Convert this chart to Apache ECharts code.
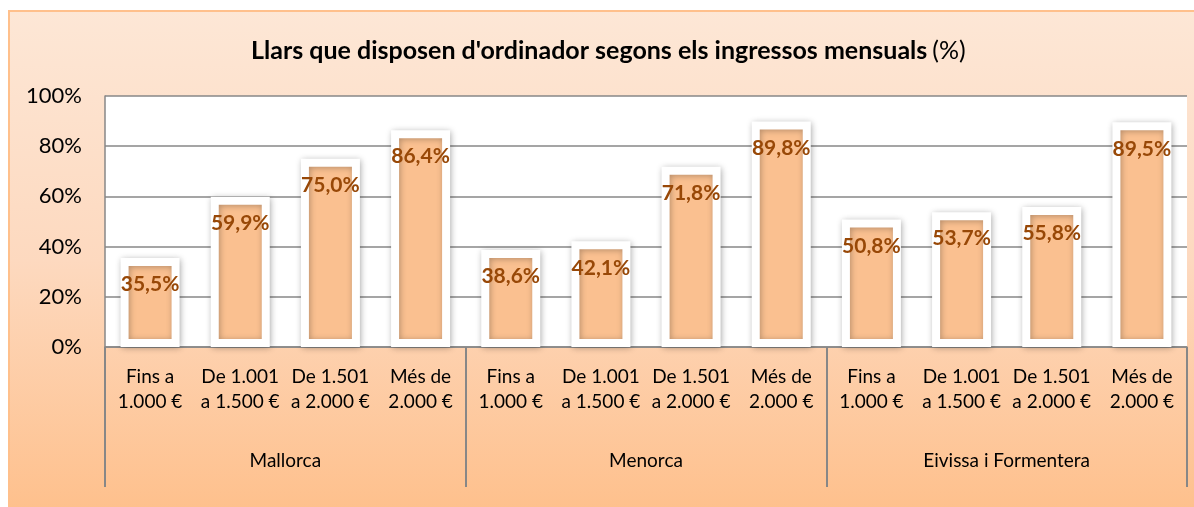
<!DOCTYPE html>
<html>
<head>
<meta charset="utf-8">
<script src="https://cdn.jsdelivr.net/npm/echarts@6/dist/echarts.min.js"></script>
<style>
html,body{margin:0;padding:0;background:#fff;}
#chart{width:1194px;height:507px;}
</style>
</head>
<body>
<div id="chart"></div>
<script>
const categories = [
  'Fins a\n1.000 €', 'De 1.001\na 1.500 €', 'De 1.501\na 2.000 €', 'Més de\n2.000 €',
  'Fins a\n1.000 €', 'De 1.001\na 1.500 €', 'De 1.501\na 2.000 €', 'Més de\n2.000 €',
  'Fins a\n1.000 €', 'De 1.001\na 1.500 €', 'De 1.501\na 2.000 €', 'Més de\n2.000 €'
];
const groups = ['Mallorca', 'Menorca', 'Eivissa i Formentera'];
const values = [35.5, 59.9, 75.0, 86.4, 38.6, 42.1, 71.8, 89.8, 50.8, 53.7, 55.8, 89.5];
const yTicks = [0, 20, 40, 60, 80, 100];

const FONT = 'Lato';
const chart = echarts.init(document.getElementById('chart'));
const gray = '#878787';

chart.setOption({
  animation: false,
  graphic: [{
    type: 'rect',
    left: 8, top: 10, z: -10,
    shape: { width: 1190, height: 500 },
    style: {
      fill: new echarts.graphic.LinearGradient(0, 0, 0, 1, [
        { offset: 0, color: '#FDE7D6' },
        { offset: 0.5, color: '#FDD9BF' },
        { offset: 1, color: '#FEC08C' }
      ]),
      stroke: '#FFC08C', lineWidth: 2
    }
  }],
  title: {
    text: "{b|Llars que disposen d'ordinador segons els ingressos mensuals} {n|(%)}",
    left: 246, top: 33,
    textStyle: {
      rich: {
        b: { fontFamily: FONT, fontWeight: 'bold', fontSize: 25, color: '#000' },
        n: { fontFamily: FONT, fontWeight: 'normal', fontSize: 25, color: '#000' }
      }
    }
  },
  grid: {
    left: 105, right: 7, top: 96, bottom: 160,
    show: true, backgroundColor: '#fff', borderWidth: 0
  },
  yAxis: {
    type: 'value', min: 0, max: 100, interval: 20,
    axisLine: { show: true, lineStyle: { color: gray, width: 1.5 } },
    axisTick: { show: false },
    splitLine: { lineStyle: { color: gray, width: 1.5 } },
    axisLabel: {
      formatter: v => yTicks.includes(v) ? v + '%' : '',
      fontFamily: FONT, fontSize: 22, color: '#000', margin: 23
    }
  },
  xAxis: [{
    type: 'category', data: categories, position: 'bottom',
    axisLine: { show: true, lineStyle: { color: gray, width: 1.5 } },
    axisTick: { show: false },
    axisLabel: {
      interval: 0, fontFamily: FONT, fontSize: 19, lineHeight: 25,
      color: '#000', margin: 17
    }
  }, {
    type: 'category', data: groups, position: 'bottom',
    axisLine: { show: false },
    axisTick: { show: true, length: 140, lineStyle: { color: gray, width: 2 } },
    axisLabel: {
      interval: 0, fontFamily: FONT, fontSize: 19, color: '#000', margin: 104
    }
  }],
  series: [{
    type: 'bar', xAxisIndex: 0, data: values, barWidth: 59,
    itemStyle: {
      color: '#FAC090', borderColor: '#fff', borderWidth: 8,
      shadowBlur: 6, shadowColor: 'rgba(0,0,0,0.28)', shadowOffsetX: 1, shadowOffsetY: 1
    },
    label: {
      show: true, position: 'insideTop', distance: 16,
      formatter: p => p.value.toFixed(1).replace('.', ',') + '%',
      fontFamily: FONT, fontWeight: 'bold', fontSize: 21, color: '#984807'
    }
  }]
});
</script>
</body>
</html>
